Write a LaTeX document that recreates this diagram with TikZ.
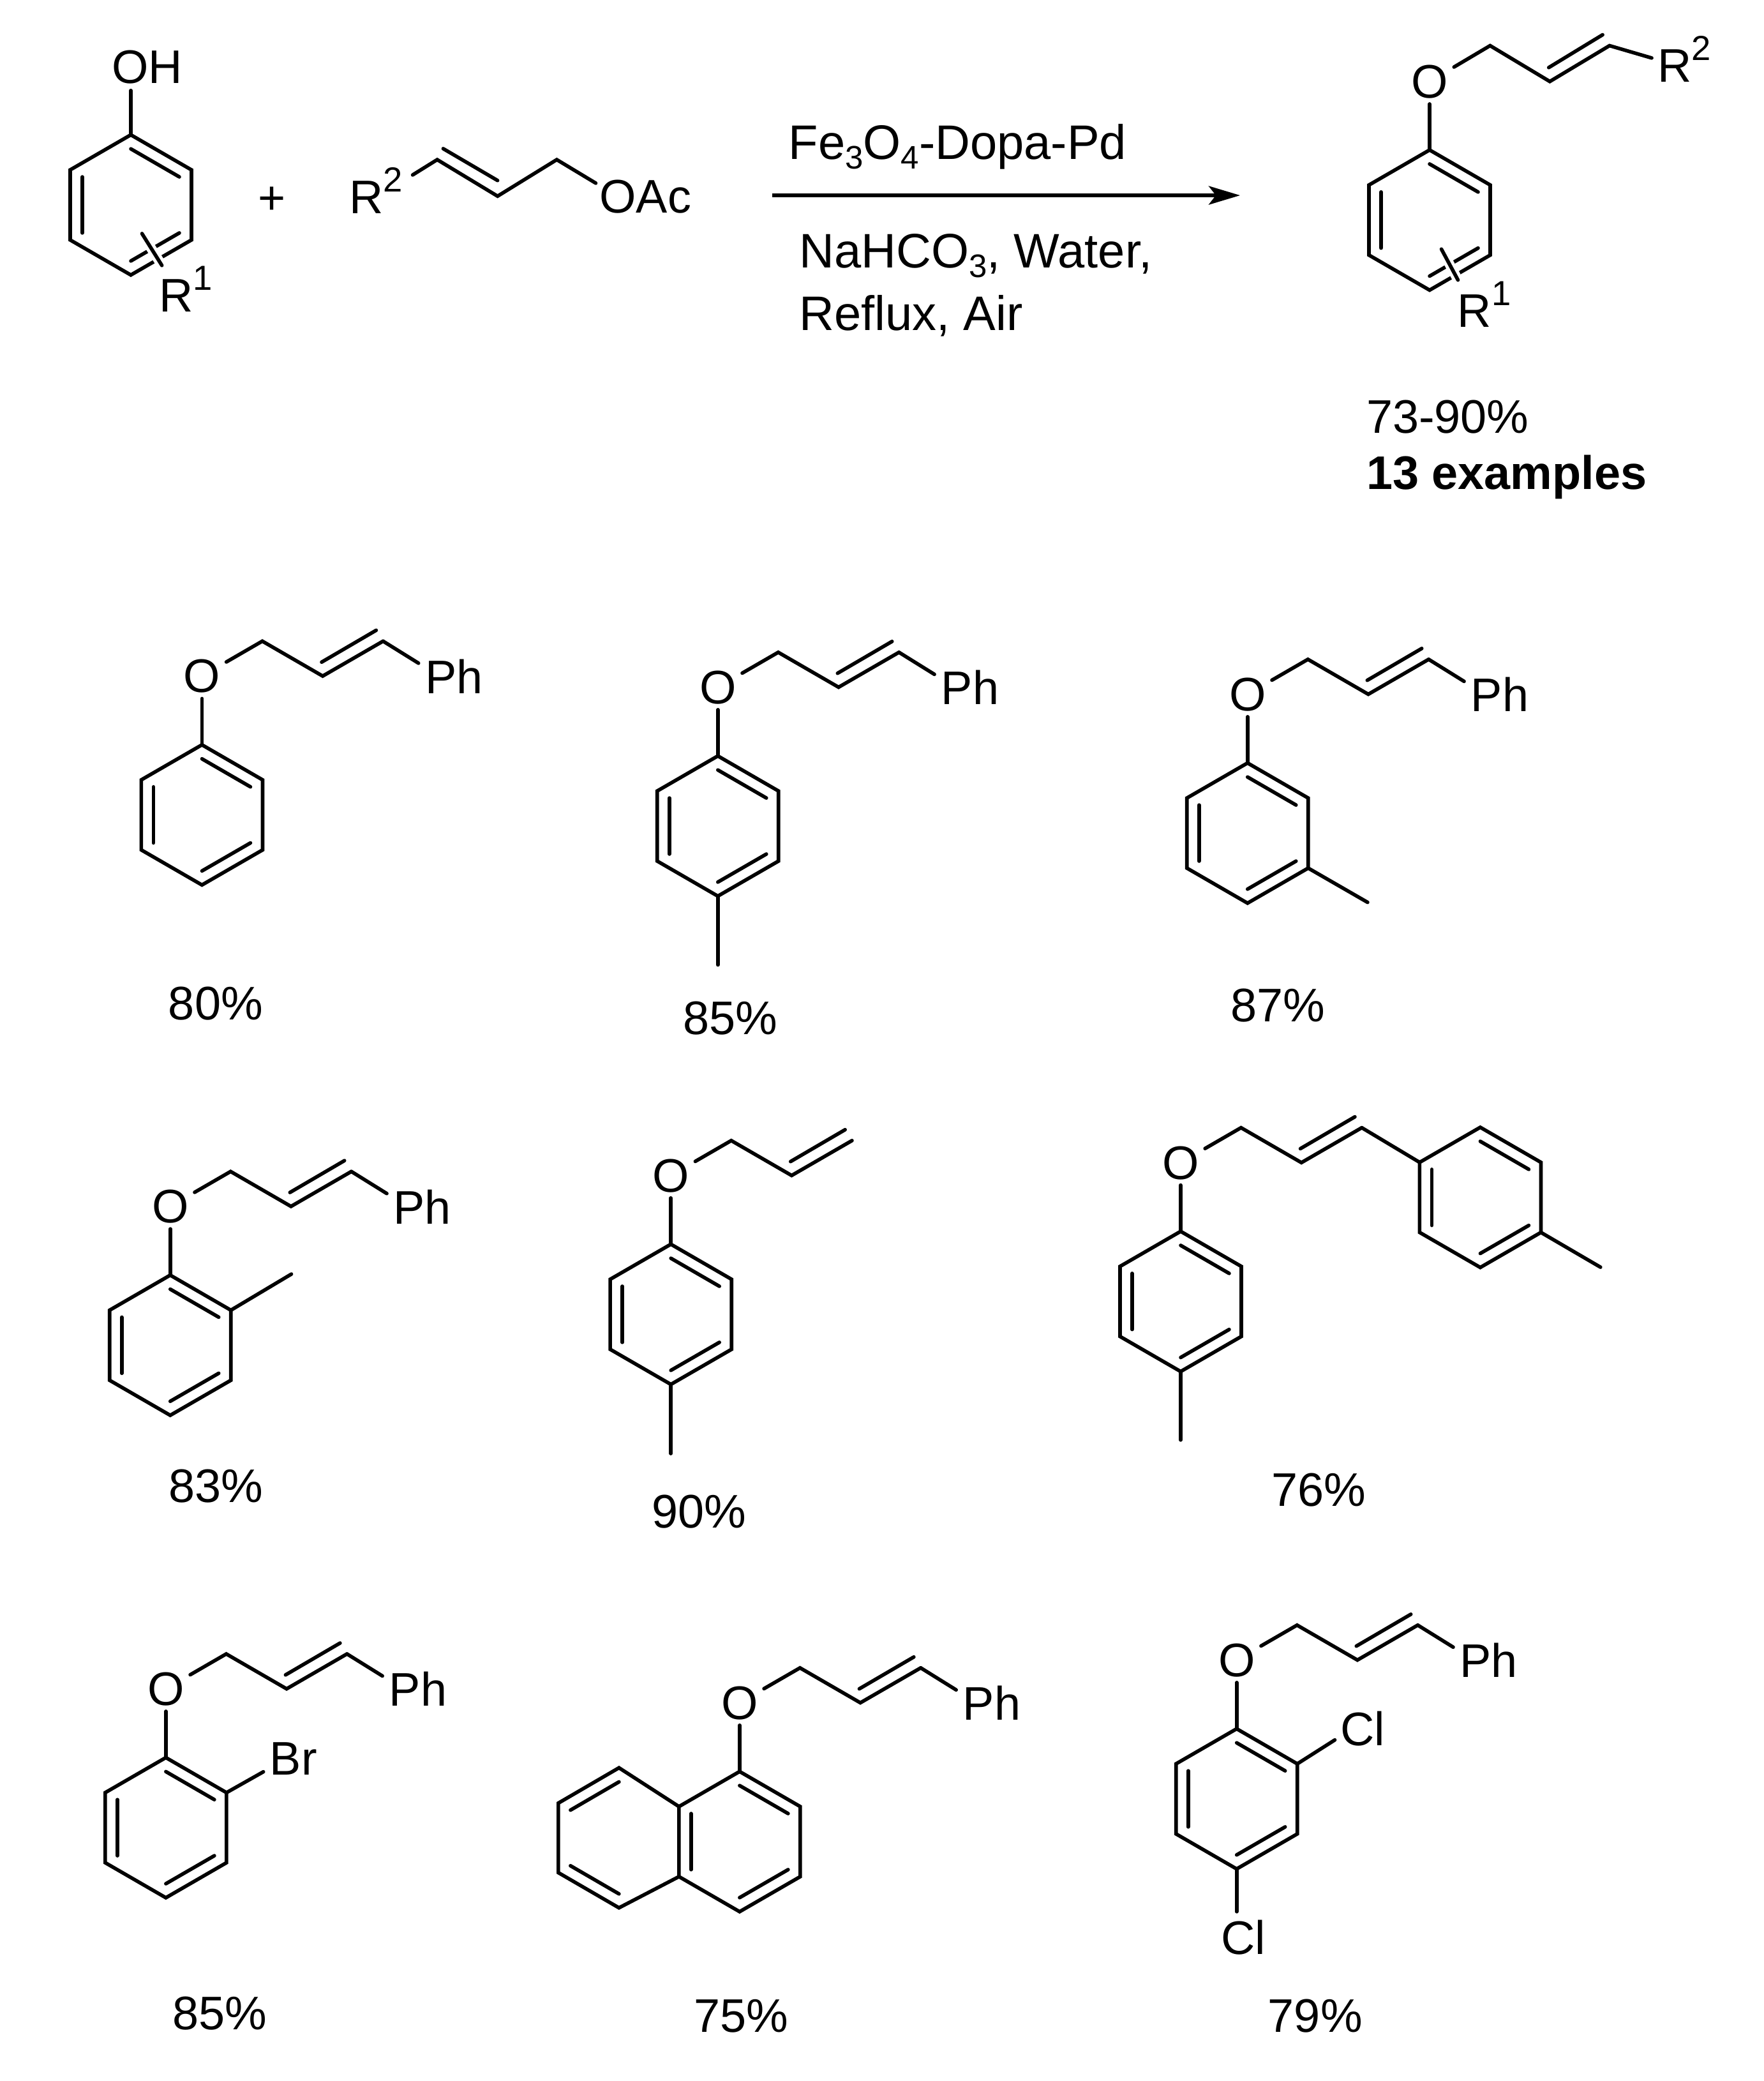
\documentclass[tikz,border=0pt]{standalone}
\usepackage{fontspec}
\setmainfont{Liberation Sans}
\usetikzlibrary{calc,arrows.meta}
\newcommand\chemfont{\fontsize{21}{25}\selectfont}
\newcommand\condfont{\fontsize{21.6}{25}\selectfont}
\newcommand\supr[1]{\raisebox{0.46em}{\fontsize{15.5}{15.5}\selectfont #1}}
\newcommand\subr[1]{\raisebox{-0.2em}{\fontsize{14.5}{14.5}\selectfont #1}}
\tikzset{
  bond/.style={line width=1.6pt,line cap=round,line join=miter,black},
  atom/.style={font=\chemfont,inner sep=2.5pt,text depth=0pt,text=black},
  lab/.style={font=\chemfont,inner sep=0pt,text depth=0pt,text=black},
  txt/.style={font=\chemfont,inner sep=0pt,anchor=base west,text=black},
  knock/.style={line width=4.4pt,white,line cap=butt},
}
% benzene ring: p1 top, then clockwise; standard set of inner lines
\newcommand\ringat[3]{%
  \coordinate (#1c) at (#2,#3);
  \coordinate (#11) at (#2,#3-52.8);
  \coordinate (#12) at (#2+45.7,#3-26.4);
  \coordinate (#13) at (#2+45.7,#3+26.4);
  \coordinate (#14) at (#2,#3+52.8);
  \coordinate (#15) at (#2-45.7,#3+26.4);
  \coordinate (#16) at (#2-45.7,#3-26.4);
  \draw[bond] (#11)--(#12)--(#13)--(#14)--(#15)--(#16)--cycle;
}
\newcommand\inner[3]{\draw[bond] ($(#1)!0.2!(#3)$) -- ($(#2)!0.2!(#3)$);}
\newcommand\stdin[1]{%
  \inner{#11}{#12}{#1c}\inner{#15}{#16}{#1c}\inner{#13}{#14}{#1c}}
% O-allyl chain with the ring below it
\newcommand\chainat[3]{%
  \node[atom] (#1O) at (#2,#3) {O};
  \coordinate (#1C1) at (#2+45.5,#3-26.3);
  \coordinate (#1C2) at (#2+91,#3);
  \coordinate (#1C3) at (#2+136.5,#3-26.3);
  \draw[bond] (#1O) -- (#1C1) -- (#1C2) -- (#1C3);
  \draw[bond] ($(#1C2)+(-0.8,-10.5)$) -- ($(#1C3)+(-5.2,-8.2)$);
  \ringat{#1}{#2}{#3+104.6}
  \draw[bond] (#1O) -- (#11);
  \stdin{#1}
}
\newcommand\phend[1]{%
  \coordinate (#1E) at ($(#1C3)+(26.7,16.6)$);
  \node[lab,anchor=west] (#1L) at ($(#1C3)+(31.5,26.5)$) {Ph};
  \draw[bond] (#1C3) -- (#1E);
}
\begin{document}
\begin{tikzpicture}[x=0.02079cm,y=-0.02079cm]
\useasboundingbox (0,0) rectangle (1329,1568);

% --- reactant phenol
\node[atom] (ohn) at (111,50.3) {OH};
\ringat{r}{98.6}{154.4}
\coordinate (ohb) at (98.6,68.2);
\draw[bond] (ohb) -- (r1);
\inner{r1}{r2}{rc}\inner{r5}{r6}{rc}\inner{r3}{r4}{rc}
\coordinate (rxa) at (107,176);
\coordinate (rxb) at (122,200);
\draw[knock] (rxa) -- (rxb);
\draw[bond] (rxa) -- (rxb);
\node[txt] (rone) at (119.6,235.1) {R\supr{1}};

\node[lab] (plus) at (205,151) {+};

% --- allyl acetate
\node[txt] (rtwo) at (263,160.7) {R\supr{2}};
\coordinate (ab0) at (311,131.8);
\coordinate (ac1) at (329.5,120.3);
\coordinate (ac2) at (375,147.8);
\coordinate (ac3) at (419.6,120.3);
\coordinate (ab4) at (449,138);
\coordinate (ai1) at (334,112);
\coordinate (ai2) at (375,136);
\draw[bond] (ab0)--(ac1)--(ac2)--(ac3)--(ab4);
\draw[bond] (ai1)--(ai2);
\node[txt] (oac) at (451.5,160.4) {OAc};

% --- arrow and conditions
\coordinate (arra) at (582,147.2);
\coordinate (arrb) at (934.6,147.2);
\draw[line width=1.7pt,-{Stealth[length=0.49cm,width=0.29cm,inset=0.11cm]}] (arra) -- (arrb);
\node[txt,font=\condfont] (cond1) at (594,120) {Fe\subr{3}O\subr{4}-Dopa-Pd};
\node[txt,font=\condfont] (cond2) at (602,201.7) {NaHCO\subr{3}, Water,};
\node[txt,font=\condfont] (cond3) at (602,249) {Reflux, Air};

% --- general product
\node[atom] (pO) at (1077.4,61.4) {O};
\coordinate (pC1) at (1123,34.4);
\coordinate (pC2) at (1168,61.4);
\coordinate (pC3) at (1213,34.4);
\coordinate (pE) at (1244.8,43.7);
\draw[bond] (pO)--(pC1)--(pC2)--(pC3)--(pE);
\draw[bond] ($(pC2)+(-0.8,-10.5)$) -- ($(pC3)+(-5.2,-8.2)$);
\node[txt] (ptwo) at (1249,61.8) {R\supr{2}};
\ringat{p}{1077.4}{165.8}
\draw[bond] (pO) -- (p1);
\stdin{p}
\coordinate (pxa) at (1086.3,187.7);
\coordinate (pxb) at (1098.8,211);
\draw[knock] (pxa) -- (pxb);
\draw[bond] (pxa) -- (pxb);
\node[txt] (pone) at (1098.2,246.6) {R\supr{1}};
\node[txt] (yld) at (1029.5,326.4) {73-90\%};
\node[txt,font=\chemfont\bfseries] (ex) at (1029.5,368.6) {13 examples};

% --- row 1
\chainat{a}{152.2}{509.4}\phend{a}
\node[lab] (ay) at (162.5,756) {80\%};

\chainat{b}{541}{517.8}\phend{b}
\coordinate (bm) at (541,727);
\draw[bond] (b4) -- (bm);
\node[lab] (by) at (550.6,767) {85\%};

\chainat{c}{940.2}{523.1}\phend{c}
\coordinate (cm) at (1030.7,679.9);
\draw[bond] (c3) -- (cm);
\node[lab] (cy) at (963.2,757.5) {87\%};

% --- row 2
\chainat{d}{128.3}{909}\phend{d}
\coordinate (dm) at (219.6,960);
\draw[bond] (d2) -- (dm);
\node[lab] (dy) at (162.6,1119.5) {83\%};

\chainat{e}{505.6}{885.7}
\coordinate (em) at (505.6,1095.2);
\draw[bond] (e4) -- (em);
\node[lab] (ey) at (526.7,1138.7) {90\%};

\chainat{f}{889.8}{876}
\coordinate (fm) at (889.8,1085);
\draw[bond] (f4) -- (fm);
\ringat{g}{1115.6}{902.2}
\stdin{g}
\draw[bond] (fC3) -- (g6);
\coordinate (gm) at (1206.2,954.8);
\draw[bond] (g3) -- (gm);
\node[lab] (fy) at (993.7,1122.6) {76\%};

% --- row 3
\chainat{h}{125}{1272.5}\phend{h}
\coordinate (hb) at (198.5,1335);
\draw[bond] (h2) -- (hb);
\node[lab,anchor=west] (hbr) at (203,1325) {Br};
\node[lab] (hy) at (165.7,1517) {85\%};

\chainat{i}{557.4}{1283}\phend{i}
\coordinate (l1) at (466.5,1332);
\coordinate (l6) at (420.8,1358.6);
\coordinate (l5) at (420.8,1411);
\coordinate (l4) at (466.5,1437.5);
\coordinate (lc) at (466.5,1385);
\draw[bond] (i6)--(l1)--(l6)--(l5)--(l4)--(i5);
\inner{l1}{l6}{lc}\inner{l5}{l4}{lc}
\node[lab] (iy) at (558.6,1519) {75\%};

\chainat{j}{932}{1250.8}\phend{j}
\coordinate (jb) at (1006,1311);
\draw[bond] (j2) -- (jb);
\node[lab,anchor=west] (jcl) at (1010,1302.6) {Cl};
\coordinate (jc) at (932,1440.4);
\draw[bond] (j4) -- (jc);
\node[lab,anchor=west] (jcm) at (919.8,1459.6) {Cl};
\node[lab] (jy) at (991.2,1518.8) {79\%};
\end{tikzpicture}
\end{document}
